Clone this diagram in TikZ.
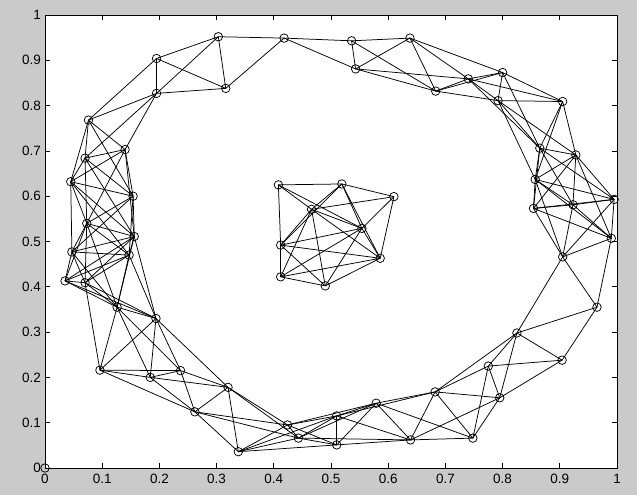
\documentclass[tikz,border=0pt]{standalone}
\usepackage{fontspec}
\setmainfont{Liberation Sans}
\definecolor{figgray}{RGB}{202,202,202}
\begin{document}
\begin{tikzpicture}[x=572pt,y=453pt,
  vtx/.style={circle,draw,inner sep=0pt,minimum size=8.5pt,line width=0.75pt},
  edge/.style={line width=0.75pt},
  ticklab/.style={font=\fontsize{13.5}{13.5}\selectfont,inner sep=0pt}]
\useasboundingbox (-45pt,-27pt) rectangle (592pt,468pt);
\fill[figgray] (-45pt,-27pt) rectangle (592pt,468pt);
\fill[white] (0,0) rectangle (1,1);
\def\pts{0.303/0.952,0.418/0.949,0.536/0.943,0.638/0.949,0.195/0.904,0.195/0.827,0.316/0.838,0.543/0.881,0.683/0.832,0.740/0.859,0.800/0.873,0.792/0.811,0.905/0.809,0.865/0.706,0.928/0.691,0.857/0.637,0.854/0.573,0.923/0.581,0.995/0.593,0.990/0.507,0.905/0.466,0.965/0.355,0.904/0.238,0.825/0.298,0.775/0.225,0.795/0.155,0.748/0.066,0.682/0.168,0.639/0.062,0.579/0.143,0.510/0.115,0.510/0.051,0.443/0.066,0.424/0.095,0.338/0.036,0.320/0.178,0.262/0.124,0.237/0.215,0.184/0.200,0.096/0.216,0.194/0.330,0.126/0.355,0.070/0.409,0.035/0.413,0.147/0.470,0.047/0.477,0.156/0.511,0.073/0.540,0.154/0.600,0.045/0.632,0.070/0.684,0.140/0.703,0.076/0.768,0.408/0.625,0.519/0.627,0.610/0.599,0.466/0.571,0.554/0.529,0.412/0.492,0.586/0.463,0.412/0.422,0.490/0.402}
\foreach [count=\i] \x/\y in \pts { \coordinate (c\i) at (\x,\y); }
\foreach [count=\i] \xa/\ya in \pts {
  \foreach [count=\j] \xb/\yb in \pts {
    \ifnum\j>\i
      \pgfmathsetmacro\dd{((\xa-\xb)^2+(\ya-\yb)^2)*100}
      \ifdim\dd pt<4pt \draw[edge] (c\i) -- (c\j); \fi
    \fi
  }
}
\foreach [count=\i] \x/\y in \pts { \node[vtx] (n\i) at (c\i) {}; }
\node[vtx] (n0) at (0,0) {};
\draw[line width=0.9pt] (0,0) rectangle (1,1);
\foreach \k in {1,...,9} {
  \draw[line width=0.7pt] (\k/10,0) -- ++(0,5pt);
  \draw[line width=0.7pt] (\k/10,1) -- ++(0,-5pt);
  \draw[line width=0.7pt] (0,\k/10) -- ++(5pt,0);
  \draw[line width=0.7pt] (1,\k/10) -- ++(-5pt,0);
}
\foreach \k/\lab in {0/0,1/0.1,2/0.2,3/0.3,4/0.4,5/0.5,6/0.6,7/0.7,8/0.8,9/0.9,10/1} {
  \node[ticklab,anchor=north] (xl\k) at (\k/10,-6pt) {\lab};
  \node[ticklab,anchor=east] (yl\k) at (-4pt,\k/10) {\lab};
}
\end{tikzpicture}
\end{document}
